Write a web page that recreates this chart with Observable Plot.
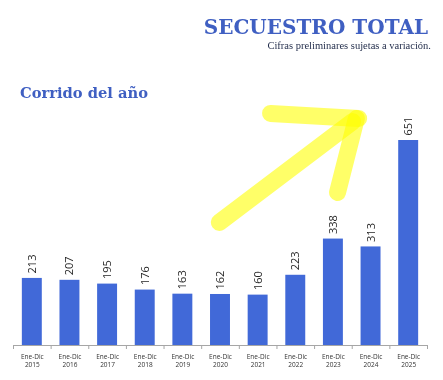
<!DOCTYPE html>
<html>
<head>
<meta charset="utf-8">
<script src="https://cdn.jsdelivr.net/npm/d3@7"></script>
<script src="https://cdn.jsdelivr.net/npm/@observablehq/plot@0.6"></script>
<style>
  html, body { margin: 0; padding: 0; background: #fff; }
  #wrap { position: relative; width: 443px; height: 380px; overflow: hidden; }
  #wrap svg { position: absolute; left: 0; top: 0; }
  .t { position: absolute; line-height: 1; white-space: nowrap; }
  #title { right: 15px; top: 17px; font-family: "DejaVu Serif", serif; font-weight: bold; font-size: 20px; color: #3f5fc2; }
  #subtitle { right: 12px; top: 41px; font-family: "Liberation Serif", serif; font-size: 10.5px; color: #1f2a48; }
  #section { left: 20px; top: 86px; font-family: "DejaVu Serif", serif; font-weight: bold; font-size: 14.7px; color: #3f5fc2; }
</style>
</head>
<body>
<div id="wrap">
  <div class="t" id="title">SECUESTRO TOTAL</div>
  <div class="t" id="subtitle">Cifras preliminares sujetas a variación.</div>
  <div class="t" id="section">Corrido del año</div>
</div>
<script>
const years = ["2015","2016","2017","2018","2019","2020","2021","2022","2023","2024","2025"];
const values = [213, 207, 195, 176, 163, 162, 160, 223, 338, 313, 651];
const periodLabel = "Ene-Dic";

// Yellow highlighter arrow, in (year index, value) coordinates
const arrowSeg = ["shaft","shaft","top","top","low","low"];
const arrowI   = [4.97, 8.51, 6.33, 8.67, 8.11, 8.61];
const arrowV   = [391, 711, 737, 721, 486, 721];

const data = years.map((year, i) => ({i, year, value: values[i]}));
const arrow = arrowSeg.map((seg, k) => ({seg, i: arrowI[k], v: arrowV[k]}));
const boundaries = d3.range(-0.5, years.length, 1);

const chart = Plot.plot({
  width: 443,
  height: 380,
  marginLeft: 13,
  marginRight: 16,
  marginTop: 140,
  marginBottom: 35,
  x: {domain: [-0.5, years.length - 0.5], axis: null},
  y: {domain: [0, 651], axis: null},
  style: {fontFamily: "'Open Sans', sans-serif", background: "transparent", overflow: "visible"},
  marks: [
    Plot.rectY(data, {x1: d => d.i - 0.265, x2: d => d.i + 0.265, y: "value", fill: "#4169d8"}),
    Plot.line(arrow, {x: "i", y: "v", z: "seg", stroke: "#ffff4d", strokeWidth: 17, strokeLinecap: "round", strokeLinejoin: "round", mixBlendMode: "multiply", strokeOpacity: 0.85}),
    Plot.ruleY([0], {stroke: "#a6a6a6", strokeWidth: 1}),
    Plot.axisX(boundaries, {tickSize: 4, tickFormat: () => "", stroke: "#a6a6a6", label: null}),
    Plot.axisX(data.map(d => d.i), {
      tickSize: 0, tickPadding: 7, label: null,
      tickFormat: i => `${periodLabel}\n${years[i]}`,
      fontSize: 6.5, fill: "#333333", lineHeight: 1.3
    }),
    Plot.text(data, {
      x: "i", y: "value", text: d => String(d.value),
      rotate: -90, textAnchor: "start", dy: -5,
      fontSize: 11, fill: "#262626"
    })
  ]
});
document.getElementById("wrap").prepend(chart);
</script>
</body>
</html>
